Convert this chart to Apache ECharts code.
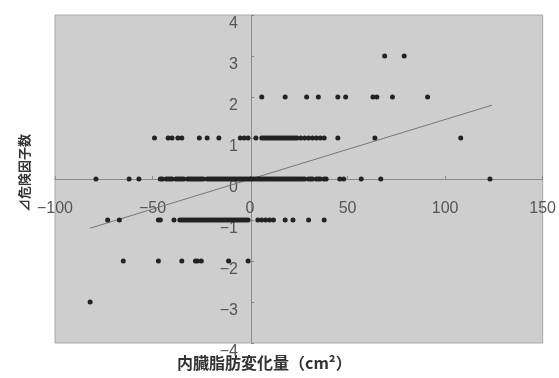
<!DOCTYPE html>
<html>
<head>
<meta charset="utf-8">
<script src="https://cdn.jsdelivr.net/npm/echarts@6/dist/echarts.min.js"></script>
<style>html,body{margin:0;padding:0;background:#fff;}#c{width:559px;height:378px;}</style>
</head>
<body>
<div id="c"></div>
<script>
// x values (cm²) of the points on each level of ⊿危険因子数
var rowP3 = [69, 79];
var rowP2 = [6, 18, 29, 35, 45, 49, 63, 65, 73, 91];
var rowP1 = [-49, -42, -40, -37, -35, -26, -22, -16, -5, -3, -1, 3, 6, 7, 8, 9, 10, 11, 12, 13, 14, 15, 16, 17, 18, 19, 20, 21, 22, 23, 24, 26, 28, 30, 32, 34, 36, 38, 45, 64, 108];
var row0 = [-79, -62, -57, -46, -45, -43, -42, -41, -40, -38, -37, -36, -35, -34, -32, -31, -30, -29, -28, -27, -26, -25, -24, -22, -21, -20, -19, -18, -17, -16, -15, -14, -13, -12, -11, -10, -9, -8, -7, -6, -5, -4, -3, -2, -1, 0, 1, 2, 3, 4, 5, 6, 7, 8, 9, 10, 11, 12, 13, 14, 15, 16, 17, 18, 19, 20, 21, 22, 23, 24, 25, 26, 27, 28, 30, 31, 32, 34, 35, 36, 38, 39, 46, 48, 57, 67, 123];
var rowM1 = [-73, -67, -47, -46, -39, -36, -35, -34, -33, -32, -31, -30, -29, -28, -27, -26, -25, -24, -23, -22, -21, -20, -19, -18, -17, -16, -15, -14, -13, -12, -11, -10, -9, -8, -7, -6, -5, -4, -3, -2, -1, 4, 6, 8, 10, 12, 18, 22, 30, 38];
var rowM2 = [-65, -47, -35, -28, -27, -25, -11, -1];
var rowM3 = [-82];
var levels = [3, 2, 1, 0, -1, -2, -3];
var rows = [rowP3, rowP2, rowP1, row0, rowM1, rowM2, rowM3];
var trendLine = [[-82, -1.2], [124, 1.8]];
var xTicks = [-100, -50, 0, 50, 100, 150];
var yTicks = [-4, -3, -2, -1, 0, 1, 2, 3, 4];
var xTitle = '内臓脂肪変化量（cm²）';
var yTitle = '⊿危険因子数';

var points = [];
rows.forEach(function (r, i) { r.forEach(function (x) { points.push([x, levels[i]]); }); });

var W = 559, H = 378, GL = 55, GR = 14, GT = 15, GB = 35;
var xMin = xTicks[0], xMax = xTicks[xTicks.length - 1], yMin = yTicks[0], yMax = yTicks[yTicks.length - 1];
// move the axes (line + labels) so that they cross at the origin
var xAxisOffset = -((0 - yMin) / (yMax - yMin)) * (H - GT - GB);
var yAxisOffset = -((0 - xMin) / (xMax - xMin)) * (W - GL - GR);

function fmt(v) { return v < 0 ? '−' + Math.abs(v) : String(v); }
var chart = echarts.init(document.getElementById('c'));
var lblFont = '"Liberation Sans", Arial, sans-serif';
chart.setOption({
  animation: false,
  grid: { left: GL, right: GR, top: GT, bottom: GB, show: true, backgroundColor: '#cecece', borderColor: '#a8a8a8', borderWidth: 1 },
  xAxis: {
    type: 'value', min: xMin, max: xMax, interval: 50, position: 'bottom', offset: xAxisOffset,
    axisLine: { onZero: false, lineStyle: { color: '#8a8a8a', width: 1 } },
    axisTick: { show: true, inside: true, length: 3, lineStyle: { color: '#8a8a8a' } },
    splitLine: { show: false },
    axisLabel: { margin: 22, fontSize: 16, color: '#555', fontFamily: lblFont, showMinLabel: true, showMaxLabel: true, formatter: fmt }
  },
  yAxis: {
    type: 'value', min: yMin, max: yMax, interval: 1, position: 'left', offset: yAxisOffset,
    axisLine: { onZero: false, lineStyle: { color: '#8a8a8a', width: 1 } },
    axisTick: { show: true, inside: true, length: 3, lineStyle: { color: '#8a8a8a' } },
    splitLine: { show: false },
    axisLabel: { margin: 13, fontSize: 16, color: '#555', fontFamily: lblFont, verticalAlign: 'top', lineHeight: 18, showMinLabel: true, showMaxLabel: true, formatter: fmt }
  },
  series: [
    { type: 'line', data: trendLine, symbol: 'none', lineStyle: { color: '#777', width: 1 }, z: 2 },
    { type: 'scatter', data: points, symbolSize: 5, itemStyle: { color: '#222', opacity: 1 }, z: 3 }
  ],
  graphic: [
    { type: 'text', left: 177, top: 355, style: { text: xTitle, fontSize: 16, fontWeight: 'bold', fill: '#333', fontFamily: '"Noto Sans CJK JP", sans-serif' } },
    { type: 'text', x: 18, y: 212, rotation: Math.PI / 2, style: { text: yTitle, fontSize: 13, fontWeight: 'bold', fill: '#333', fontFamily: '"Noto Sans CJK JP", sans-serif' } }
  ]
});
</script>
</body>
</html>
